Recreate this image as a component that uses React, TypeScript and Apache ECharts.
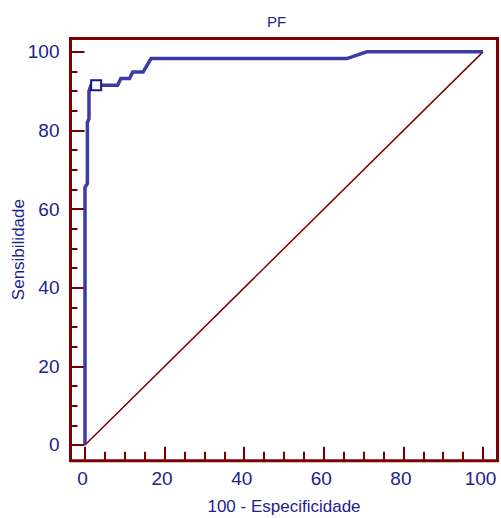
import React, { useEffect, useRef } from "react";
import * as echarts from "echarts";

// ROC curve points: 100 - Especificidade (x) vs Sensibilidade (y)
const fpr = [0, 0, 0.6, 0.6, 1.0, 1.0, 1.5, 2.8, 8.2, 9.0, 11.2, 12.0, 14.6, 16.6, 65.8, 70.8, 100];
const sens = [0, 65.5, 66.5, 82.0, 83.0, 90.0, 91.5, 91.5, 91.5, 93.2, 93.2, 94.9, 94.9, 98.3, 98.3, 100, 100];
// reference diagonal
const diagX = [0, 100];
const diagY = [0, 100];
// optimal criterion point
const cutX = [2.8];
const cutY = [91.5];
// ticks
const majorTicks = [0, 20, 40, 60, 80, 100];
const minorTicks = [5, 10, 15, 25, 30, 35, 45, 50, 55, 65, 70, 75, 85, 90, 95];

const NAVY = "#22228c";
const DARKRED = "#7a0000";
const BLUE = "#3b3ba6";
const FONT = "'Liberation Sans', Arial, sans-serif";

export default function App() {
  const ref = useRef<HTMLDivElement>(null);
  useEffect(() => {
    if (!ref.current) return;
    const chart = echarts.init(ref.current, undefined, { renderer: "svg" });
    const xBase = { type: "value", min: -3.64, max: 103.64, gridIndex: 0, position: "bottom", splitLine: { show: false }, axisLine: { show: false, onZero: false } };
    const yBase = { type: "value", min: -4.0, max: 103.4, gridIndex: 0, position: "left", splitLine: { show: false }, axisLine: { show: false, onZero: false } };
    chart.setOption({
      animation: false,
      textStyle: { fontFamily: FONT },
      title: {
        text: "PF",
        left: 262,
        top: 9,
        textStyle: { color: NAVY, fontSize: 15, fontWeight: "normal", fontFamily: FONT },
      },
      grid: {
        left: 70.5,
        right: 3.5,
        top: 38.5,
        bottom: 57.3,
        show: true,
        borderColor: DARKRED,
        borderWidth: 3,
        backgroundColor: "transparent",
        outerBoundsMode: "none",
        containLabel: false,
      },
      xAxis: [
        {
          ...xBase,
          name: "100 - Especificidade",
          nameLocation: "middle",
          nameGap: 37,
          nameMoveOverlap: false,
          nameTextStyle: { color: NAVY, fontSize: 17, fontFamily: FONT },
          axisTick: { show: true, inside: true, length: 14, customValues: majorTicks, lineStyle: { color: DARKRED, width: 2 } },
          axisLabel: { show: true, customValues: majorTicks, color: NAVY, fontSize: 19, margin: 8, padding: [0, 5, 0, 0], fontFamily: FONT },
        },
        {
          ...xBase,
          offset: 0,
          axisTick: { show: true, inside: true, length: 9, customValues: minorTicks, lineStyle: { color: DARKRED, width: 2 } },
          axisLabel: { show: false },
        },
      ],
      yAxis: [
        {
          ...yBase,
          name: "Sensibilidade",
          nameLocation: "middle",
          nameGap: 44,
          nameMoveOverlap: false,
          nameTextStyle: { color: NAVY, fontSize: 17, fontFamily: FONT },
          axisTick: { show: true, inside: true, length: 14, customValues: majorTicks, lineStyle: { color: DARKRED, width: 2 } },
          axisLabel: { show: true, customValues: majorTicks, color: NAVY, fontSize: 19, margin: 11, fontFamily: FONT },
        },
        {
          ...yBase,
          offset: 0,
          axisTick: { show: true, inside: true, length: 7, customValues: minorTicks, lineStyle: { color: DARKRED, width: 2 } },
          axisLabel: { show: false },
        },
      ],
      series: [
        {
          type: "line",
          xAxisIndex: 0,
          yAxisIndex: 0,
          data: diagX.map((x, i) => [x, diagY[i]]),
          symbol: "none",
          lineStyle: { color: "#800000", width: 1.5 },
          silent: true,
        },
        {
          type: "line",
          xAxisIndex: 0,
          yAxisIndex: 0,
          data: fpr.map((x, i) => [x, sens[i]]),
          symbol: "none",
          lineStyle: { color: BLUE, width: 3.5, join: "miter" },
          silent: true,
        },
        {
          type: "scatter",
          xAxisIndex: 0,
          yAxisIndex: 0,
          data: cutX.map((x, i) => [x, cutY[i]]),
          symbol: "rect",
          symbolSize: 10,
          itemStyle: { color: "#ffffff", borderColor: "#1a1a8a", borderWidth: 2, opacity: 1 },
          silent: true,
          z: 5,
        },
      ],
    });
    return () => chart.dispose();
  }, []);
  return <div ref={ref} style={{ width: 501, height: 518, position: "absolute", left: 0, top: 0 }} />;
}
